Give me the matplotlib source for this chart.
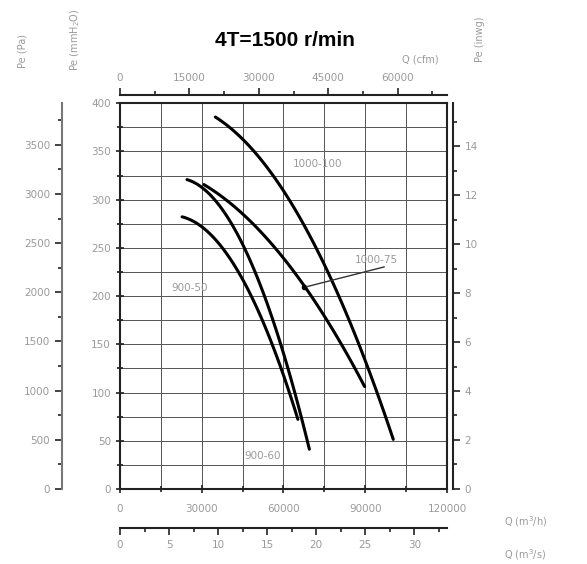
import matplotlib
matplotlib.use("Agg")
import matplotlib.pyplot as plt
import numpy as np
from matplotlib.ticker import MultipleLocator

# fan curves: Q (m3/h) vs Pe (mmH2O)
q_1000_100 = [35000, 46800, 59000, 69000, 77500, 87400, 100300]
p_1000_100 = [388, 358, 306, 265, 220, 161, 46]
q_1000_75 = [30800, 41000, 52900, 67700, 77500, 89800]
p_1000_75 = [317, 292, 265, 210, 168, 106]
q_900_60 = [24600, 38200, 46800, 55400, 61500, 69500]
p_900_60 = [320, 289, 244, 178, 127, 42]
q_900_50 = [22800, 34500, 46800, 56600, 65300]
p_900_50 = [283, 258, 210, 144, 72]

curve_q = [q_1000_100, q_1000_75, q_900_60, q_900_50]
curve_p = [p_1000_100, p_1000_75, p_900_60, p_900_50]

TXT = "#9a9a9a"
Q_MAX = 120000
P_MAX = 400
PX = 72 / 100  # pixels -> points


def smooth(xs, ys, n=60):
    xs = np.asarray(xs, float)
    ys = np.asarray(ys, float)
    coef = np.polyfit(xs, ys, 2)
    xx = np.linspace(xs[0], xs[-1], n)
    return xx, np.polyval(coef, xx)


def style_axis(a, keep, major, minor, axis):
    loc = a.xaxis if axis == "x" else a.yaxis
    loc.set_major_locator(MultipleLocator(major))
    loc.set_minor_locator(MultipleLocator(minor))
    a.tick_params(which="both", direction="out", colors="#222222", labelcolor=TXT,
                  labelsize=7.5, length=5, width=1.2)
    a.tick_params(which="minor", length=3)
    for k in ["left", "right", "top", "bottom"]:
        a.spines[k].set_visible(k == keep)
    a.spines[keep].set_linewidth(1.5)
    a.spines[keep].set_color("#222222")


fig = plt.figure(figsize=(5.87, 5.64), dpi=100)
ax = fig.add_axes([0.2044, 0.133, 0.557, 0.684])

ax.set_xlim(0, Q_MAX)
ax.set_ylim(0, P_MAX)
ax.xaxis.set_major_locator(MultipleLocator(30000))
ax.xaxis.set_minor_locator(MultipleLocator(15000))
ax.yaxis.set_major_locator(MultipleLocator(50))
ax.yaxis.set_minor_locator(MultipleLocator(25))
ax.grid(True, which="both", color="#555555", lw=0.7)
ax.tick_params(which="both", direction="inout", colors="#222222", labelcolor=TXT, labelsize=7.5,
               length=6, width=1.2)
ax.tick_params(which="minor", length=4)
ax.tick_params(axis="x", pad=8)
for s in ax.spines.values():
    s.set_linewidth(1.5)
    s.set_color("#222222")

for qs, ps in zip(curve_q, curve_p):
    xx, yy = smooth(qs, ps)
    ax.plot(xx, yy, color="black", lw=2.2, solid_capstyle="round")

ax.text(72600, 337, "1000-100", color=TXT, fontsize=7.5, ha="center", va="center")
ax.text(94000, 237, "1000-75", color=TXT, fontsize=7.5, ha="center", va="center")
ax.text(25500, 208, "900-50", color=TXT, fontsize=7.5, ha="center", va="center")
ax.text(52500, 34, "900-60", color=TXT, fontsize=7.5, ha="center", va="center")
ax.annotate("", xy=(67500, 209), xytext=(98000, 231),
            arrowprops=dict(arrowstyle="-", color="#333333", lw=1))
ax.plot([67500], [209], "o", color="black", ms=3)

# right axis: inwg
ax_in = ax.twinx()
ax_in.set_ylim(0, P_MAX / 25.4)
style_axis(ax_in, "right", 2, 1, "y")
ax_in.spines["right"].set_position(("outward", 6 * PX))

# left outer axis: Pa
ax_pa = ax.twinx()
ax_pa.set_ylim(0, P_MAX * 9.80665)
ax_pa.yaxis.tick_left()
style_axis(ax_pa, "left", 500, 250, "y")
ax_pa.spines["left"].set_position(("outward", 58 * PX))
ax_pa.spines["left"].set_color("#777777")

# top axis: cfm
ax_cfm = ax.twiny()
ax_cfm.set_xlim(0, Q_MAX / 1.699)
style_axis(ax_cfm, "top", 15000, 7500, "x")
ax_cfm.spines["top"].set_position(("outward", 8 * PX))

# bottom axis: m3/s
ax_s = ax.twiny()
ax_s.set_xlim(0, Q_MAX / 3600)
ax_s.xaxis.tick_bottom()
style_axis(ax_s, "bottom", 5, 2.5, "x")
ax_s.spines["bottom"].set_position(("outward", 39 * PX))
ax_s.set_xticks([0, 5, 10, 15, 20, 25, 30])

# axis captions
fig.text(0.038, 0.91, "Pe (Pa)", rotation=90, color=TXT, fontsize=7, ha="center", va="center")
fig.text(0.128, 0.93, "Pe (mmH$_2$O)", rotation=90, color=TXT, fontsize=7, ha="center", va="center")
fig.text(0.818, 0.93, "Pe (inwg)", rotation=90, color=TXT, fontsize=7, ha="center", va="center")
fig.text(0.7155, 0.894, "Q (cfm)", color=TXT, fontsize=7, ha="center", va="center")
fig.text(0.895, 0.076, "Q (m$^3$/h)", color=TXT, fontsize=7, ha="center", va="center")
fig.text(0.895, 0.017, "Q (m$^3$/s)", color=TXT, fontsize=7, ha="center", va="center")

fig.text(0.485, 0.928, "4T=1500 r/min", fontsize=15, fontweight="bold",
         family="Liberation Sans", ha="center", va="center")

fig.savefig("out.png", dpi=100)
